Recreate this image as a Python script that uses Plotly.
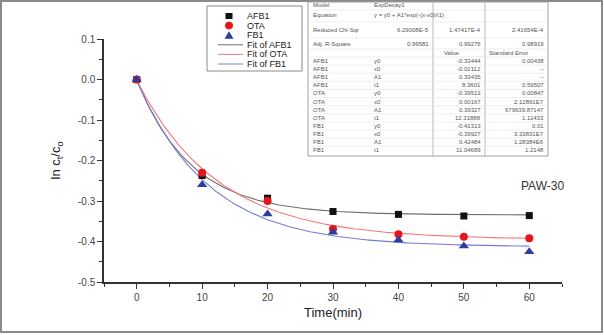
import numpy as np
import plotly.graph_objects as go

# ---------------- data ----------------
time_min = [0, 10, 20, 30, 40, 50, 60]
afb1 = [0.0, -0.237, -0.293, -0.326, -0.333, -0.337, -0.336]
ota = [0.0, -0.230, -0.300, -0.369, -0.382, -0.388, -0.392]
fb1 = [0.0, -0.260, -0.332, -0.377, -0.396, -0.411, -0.425]

# ExpDecay1 fit parameters (from the chart's table): y0, x0, A1, t1
fit_afb1 = [-0.33444, -0.02112, 0.33435, 8.3601]
fit_ota = [-0.39513, 0.00167, 0.39327, 12.31888]
fit_fb1 = [-0.41313, -0.39927, 0.42484, 11.04689]

x_ticks = [0, 10, 20, 30, 40, 50, 60]
y_ticks = [0.1, 0.0, -0.1, -0.2, -0.3, -0.4, -0.5]
y_ticktext = ["0.1", "0.0", "-0.1", "-0.2", "-0.3", "-0.4", "-0.5"]

series_names = ["AFB1", "OTA", "FB1"]
fit_names = ["Fit of AFB1", "Fit of OTA", "Fit of FB1"]

table_top = [
    ["Model", "ExpDecay1", "", ""],
    ["Equation", "y = y0 + A1*exp(-(x-x0)/t1)", "", ""],
    ["Reduced Chi-Sqr", "6.29008E-5", "1.47417E-4", "2.41654E-4"],
    ["Adj. R-Square", "0.99581", "0.99276", "0.98919"],
]
table_header = ["", "", "Value", "Standard Error"]
table_rows = [
    ["AFB1", "y0", "-0.33444", "0.00438"],
    ["AFB1", "x0", "-0.02112", "--"],
    ["AFB1", "A1", "0.33435", "--"],
    ["AFB1", "t1", "8.3601", "0.59507"],
    ["OTA", "y0", "-0.39513", "0.00847"],
    ["OTA", "x0", "0.00167", "2.12891E7"],
    ["OTA", "A1", "0.39327", "679639.87147"],
    ["OTA", "t1", "12.31888", "1.11433"],
    ["FB1", "y0", "-0.41313", "0.01"],
    ["FB1", "x0", "-0.39927", "3.33831E7"],
    ["FB1", "A1", "0.42484", "1.28384E6"],
    ["FB1", "t1", "11.04689", "1.2148"],
]
label_text = "PAW-30"

# ---------------- styles ----------------
FONT = "Liberation Sans, Arial, sans-serif"
W, H = 604, 335
ML, MR, MT, MB = 104, 42, 39, 53
PW, PH = W - ML - MR, H - MT - MB

marker_colors = ["#111111", "#e8141c", "#2b3c9e"]
marker_symbols = ["square", "circle", "triangle-up"]
marker_sizes = [7, 8, 9]
fit_colors = ["#6e6e6e", "#f27a7a", "#7a7ad6"]


def px(x):
    return (x - ML) / PW


def py(y):
    return (H - MB - y) / PH


fig = go.Figure()

xf = np.linspace(0, 60, 241)
for params, name, col in zip([fit_afb1, fit_ota, fit_fb1], fit_names, fit_colors):
    y0, x0, a1, t1 = params
    yf = y0 + a1 * np.exp(-(xf - x0) / t1)
    fig.add_trace(go.Scatter(x=xf, y=yf, mode="lines", name=name,
                             line=dict(color=col, width=1.1), showlegend=False))

for vals, name, col, sym, sz in zip([afb1, ota, fb1], series_names, marker_colors,
                                    marker_symbols, marker_sizes):
    fig.add_trace(go.Scatter(x=time_min, y=vals, mode="markers", name=name,
                             marker=dict(color=col, symbol=sym, size=sz,
                                         line=dict(width=0)),
                             showlegend=False))

shapes = []
annotations = []

# outer frame
shapes.append(dict(type="rect", xref="paper", yref="paper",
                   x0=px(1), x1=px(602), y0=py(1), y1=py(332),
                   line=dict(color="#8a8a8a", width=2), layer="above"))

# ---------------- custom legend ----------------
lx0, lx1, ly0, ly1 = 207, 302, 6, 71
shapes.append(dict(type="rect", xref="paper", yref="paper",
                   x0=px(lx0), x1=px(lx1), y0=py(ly0), y1=py(ly1),
                   line=dict(color="#8a8a8a", width=1), fillcolor="white"))
item_y = [16, 25.6, 35.2, 44.8, 54.4, 64]
sx = 229
for i in range(3):
    cy = item_y[i]
    if marker_symbols[i] == "square":
        shapes.append(dict(type="rect", xref="paper", yref="paper",
                           x0=px(sx - 3.5), x1=px(sx + 3.5), y0=py(cy - 3), y1=py(cy + 3),
                           fillcolor=marker_colors[i], line=dict(width=0)))
    elif marker_symbols[i] == "circle":
        shapes.append(dict(type="circle", xref="paper", yref="paper",
                           x0=px(sx - 4), x1=px(sx + 4), y0=py(cy - 3.8), y1=py(cy + 3.8),
                           fillcolor=marker_colors[i], line=dict(width=0)))
    else:
        path = "M {} {} L {} {} L {} {} Z".format(px(sx - 4.5), py(cy + 3.5), px(sx + 4.5),
                                                 py(cy + 3.5), px(sx), py(cy - 4))
        shapes.append(dict(type="path", xref="paper", yref="paper", path=path,
                           fillcolor=marker_colors[i], line=dict(width=0)))
    annotations.append(dict(x=px(245), y=py(cy), xref="paper", yref="paper",
                            text=series_names[i], showarrow=False, xanchor="left",
                            yanchor="middle", font=dict(family=FONT, size=9, color="#222")))
for i in range(3):
    cy = item_y[3 + i]
    shapes.append(dict(type="line", xref="paper", yref="paper",
                       x0=px(218), x1=px(243), y0=py(cy), y1=py(cy),
                       line=dict(color=fit_colors[i], width=1)))
    annotations.append(dict(x=px(245), y=py(cy), xref="paper", yref="paper",
                            text=fit_names[i], showarrow=False, xanchor="left",
                            yanchor="middle", font=dict(family=FONT, size=9, color="#222")))

# ---------------- parameter table ----------------
tx0, tx1, ty0, ty1 = 308, 548, 2, 156
col_lines = [433, 485]
shapes.append(dict(type="rect", xref="paper", yref="paper",
                   x0=px(tx0), x1=px(tx1), y0=py(ty0), y1=py(ty1),
                   line=dict(color="#a0a0a0", width=1), fillcolor="white", layer="above"))
for cx in col_lines:
    shapes.append(dict(type="line", xref="paper", yref="paper",
                       x0=px(cx), x1=px(cx), y0=py(ty0), y1=py(ty1),
                       line=dict(color="#b8b8b8", width=1), layer="above"))
top_centers = [5.5, 15, 30, 44.5]
row_h = 8.12
data_centers = [61 + row_h * i for i in range(len(table_rows))]
hlines = [10, 22, 38, 49, 57] + [61 + row_h * i + row_h / 2 for i in range(len(table_rows) - 1)]
for hy in hlines:
    shapes.append(dict(type="line", xref="paper", yref="paper",
                       x0=px(tx0), x1=px(tx1), y0=py(hy), y1=py(hy),
                       line=dict(color="#e2e2e2", width=0.6), layer="above"))

TF = dict(family=FONT, size=6, color="#555")


def cell(x, y, text, anchor):
    if text:
        annotations.append(dict(x=px(x), y=py(y), xref="paper", yref="paper", text=text,
                                showarrow=False, xanchor=anchor, yanchor="middle",
                                font=TF, borderpad=0))


for r, cy in zip(table_top, top_centers):
    cell(312, cy, r[0], "left")
    if r[2] == "":
        cell(373, cy, r[1], "left")
    else:
        cell(430, cy, r[1], "right")
        cell(482, cy, r[2], "right")
        cell(545, cy, r[3], "right")
cell(443, 52.5, table_header[2], "left")
cell(488, 52.5, table_header[3], "left")
for r, cy in zip(table_rows, data_centers):
    cell(312, cy, r[0], "left")
    cell(373, cy, r[1], "left")
    cell(482, cy, r[2], "right")
    cell(545, cy, r[3], "right")

# PAW-30 label
annotations.append(dict(x=px(542), y=py(186), xref="paper", yref="paper", text=label_text,
                        showarrow=False, xanchor="center", yanchor="middle",
                        font=dict(family=FONT, size=12, color="#333")))

fig.update_layout(
    width=W, height=H,
    margin=dict(l=ML, r=MR, t=MT, b=MB, pad=0),
    paper_bgcolor="white", plot_bgcolor="white",
    showlegend=False,
    shapes=shapes, annotations=annotations,
    font=dict(family=FONT),
)
fig.update_xaxes(range=[-5, 65], tickvals=x_ticks, showgrid=False, zeroline=False,
                 showline=True, linecolor="#333", linewidth=1.5,
                 ticks="outside", ticklen=5, tickwidth=1.2, tickcolor="#333",
                 minor=dict(dtick=5, ticks="outside", ticklen=3, tickcolor="#333", showgrid=False),
                 tickfont=dict(family=FONT, size=10, color="#444"),
                 title=dict(text="Time(min)", font=dict(family=FONT, size=13, color="#222"),
                            standoff=6))
fig.update_yaxes(range=[-0.5, 0.1], tickvals=y_ticks, ticktext=y_ticktext,
                 showgrid=False, zeroline=False,
                 showline=True, linecolor="#333", linewidth=1.5,
                 ticks="outside", ticklen=5, tickwidth=1.2, tickcolor="#333",
                 minor=dict(dtick=0.05, ticks="outside", ticklen=3, tickcolor="#333", showgrid=False),
                 tickfont=dict(family=FONT, size=10, color="#444"),
                 title=dict(text="ln c<sub>t</sub>/c<sub>o</sub>",
                            font=dict(family=FONT, size=13, color="#222"), standoff=14))

fig.write_html("out.html")
